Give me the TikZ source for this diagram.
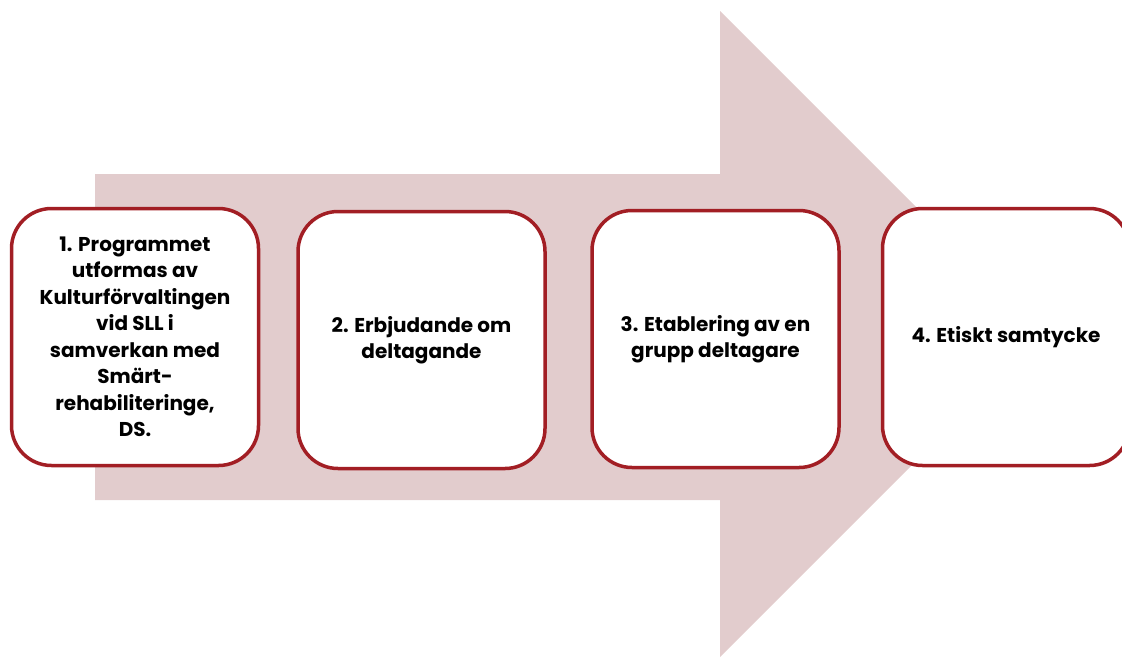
\documentclass[tikz,border=0pt]{standalone}
\usepackage{fontspec}
\setmainfont{Poppins}
\usetikzlibrary{positioning}

\definecolor{arrowpink}{RGB}{226,204,205}
\definecolor{boxred}{RGB}{162,30,36}

\tikzset{stepbox/.style={draw=boxred,line width=3.5pt,fill=white,rounded corners=40pt,
	minimum width=247pt,minimum height=257pt,inner sep=0pt,align=center,
	font=\bfseries\fontsize{20}{26.5}\selectfont}}

\begin{document}
\begin{tikzpicture}[x=1pt,y=-1pt]
	\useasboundingbox (0,0) rectangle (1122,657);
	\clip (0,0) rectangle (1122,657);
	
	% big arrow behind
	\fill[arrowpink] (95,174)--(720,174)--(720,11)--(1043,334)--(720,657)--(720,500)--(95,500)--cycle;
	
	% steps
	\node[stepbox] (prog) at (135,337) {1. Programmet\\utformas av\\Kulturförvaltingen\\vid SLL i\\samverkan med\\Smärt-\\rehabiliteringe,\\DS.};
	\node[stepbox] (erbj) at (421.5,340) {2. Erbjudande om\\deltagande};
	\node[stepbox] (grupp) at (715.5,339) {3. Etablering av en\\grupp deltagare};
	\node[stepbox] (etik) at (1006,337) {4. Etiskt samtycke};
\end{tikzpicture}
\end{document}
